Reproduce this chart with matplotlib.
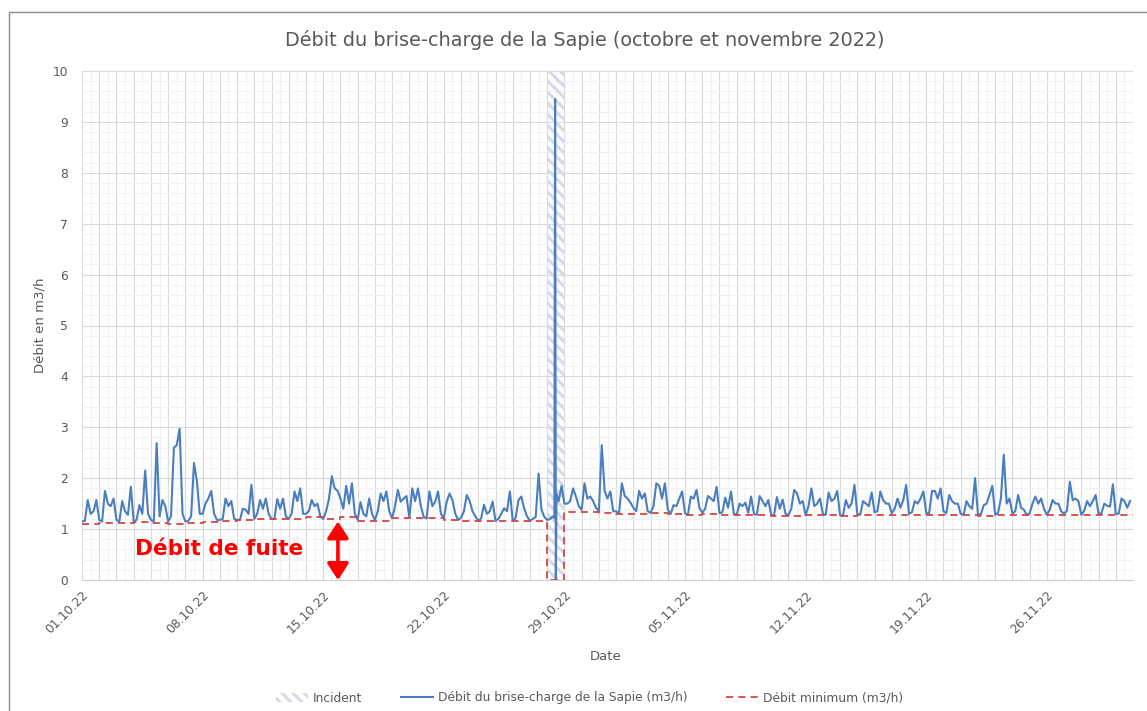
import matplotlib
matplotlib.use("Agg")
import matplotlib.pyplot as plt
from matplotlib.lines import Line2D
from matplotlib.patches import Patch
from matplotlib.ticker import MultipleLocator
import pandas as pd

# ---------------- data ----------------
# flow readings, every 4 hours (00h, 04h, 08h, 12h, 16h, 20h), one row per day
flow_october = [
    1.15, 1.16, 1.57, 1.30, 1.35, 1.57,   # 01.10
    1.18, 1.15, 1.75, 1.50, 1.45, 1.60,
    1.18, 1.15, 1.55, 1.35, 1.28, 1.83,
    1.15, 1.18, 1.47, 1.30, 2.15, 1.30,
    1.18, 1.15, 2.69, 1.25, 1.57, 1.45,
    1.15, 1.25, 2.60, 2.65, 2.97, 1.30,
    1.15, 1.16, 1.25, 2.30, 1.95, 1.30,
    1.30, 1.50, 1.60, 1.75, 1.30, 1.18,   # 08.10
    1.18, 1.20, 1.60, 1.45, 1.55, 1.20,
    1.18, 1.18, 1.40, 1.38, 1.30, 1.87,
    1.20, 1.30, 1.57, 1.40, 1.60, 1.30,
    1.20, 1.20, 1.59, 1.40, 1.60, 1.25,
    1.20, 1.30, 1.74, 1.55, 1.80, 1.30,
    1.30, 1.35, 1.57, 1.45, 1.50, 1.25,
    1.20, 1.35, 1.59, 2.04, 1.80, 1.75,   # 15.10
    1.60, 1.40, 1.85, 1.50, 1.90, 1.30,
    1.18, 1.53, 1.30, 1.25, 1.60, 1.30,
    1.18, 1.35, 1.70, 1.55, 1.74, 1.35,
    1.21, 1.45, 1.77, 1.54, 1.60, 1.65,
    1.22, 1.80, 1.55, 1.80, 1.45, 1.24,
    1.21, 1.74, 1.45, 1.54, 1.74, 1.30,
    1.21, 1.54, 1.70, 1.57, 1.30, 1.18,   # 22.10
    1.22, 1.35, 1.67, 1.55, 1.35, 1.25,
    1.16, 1.21, 1.48, 1.30, 1.35, 1.54,
    1.16, 1.20, 1.30, 1.41, 1.35, 1.74,
    1.16, 1.22, 1.57, 1.64, 1.40, 1.25,
    1.16, 1.20, 1.24, 2.09, 1.38, 1.24,
    1.18, 1.20, 1.25, 1.25, 1.55, 1.85,
    1.50, 1.50, 1.55, 1.80, 1.64, 1.45,   # 29.10
    1.38, 1.90, 1.60, 1.64, 1.55, 1.42,
    1.35, 2.65, 1.75, 1.60, 1.74, 1.35,
]
flow_november = [
    1.35, 1.30, 1.90, 1.65, 1.60, 1.52,   # 01.11
    1.42, 1.35, 1.75, 1.60, 1.70, 1.35,
    1.32, 1.45, 1.90, 1.85, 1.60, 1.90,
    1.38, 1.30, 1.47, 1.45, 1.60, 1.74,
    1.31, 1.28, 1.64, 1.60, 1.77, 1.42,   # 05.11
    1.32, 1.40, 1.65, 1.60, 1.55, 1.83,
    1.31, 1.33, 1.62, 1.42, 1.74, 1.30,
    1.28, 1.50, 1.45, 1.52, 1.32, 1.64,
    1.30, 1.28, 1.65, 1.55, 1.45, 1.57,
    1.28, 1.27, 1.63, 1.40, 1.58, 1.30,
    1.27, 1.40, 1.77, 1.70, 1.50, 1.55,
    1.27, 1.45, 1.80, 1.45, 1.50, 1.60,   # 12.11
    1.30, 1.28, 1.72, 1.55, 1.60, 1.75,
    1.27, 1.27, 1.57, 1.42, 1.50, 1.87,
    1.30, 1.28, 1.55, 1.50, 1.45, 1.72,
    1.33, 1.35, 1.74, 1.57, 1.50, 1.50,
    1.31, 1.40, 1.60, 1.42, 1.57, 1.87,
    1.30, 1.33, 1.55, 1.50, 1.60, 1.74,
    1.31, 1.31, 1.75, 1.75, 1.60, 1.80,   # 19.11
    1.35, 1.31, 1.67, 1.55, 1.50, 1.50,
    1.30, 1.28, 1.55, 1.45, 1.40, 2.00,
    1.30, 1.28, 1.47, 1.50, 1.67, 1.85,
    1.28, 1.32, 1.60, 2.46, 1.50, 1.60,
    1.30, 1.35, 1.67, 1.42, 1.38, 1.28,
    1.31, 1.50, 1.64, 1.50, 1.60, 1.40,
    1.28, 1.38, 1.57, 1.50, 1.50, 1.35,   # 26.11
    1.30, 1.36, 1.93, 1.57, 1.60, 1.55,
    1.28, 1.36, 1.55, 1.45, 1.55, 1.67,
    1.30, 1.31, 1.50, 1.46, 1.44, 1.88,
    1.30, 1.30, 1.60, 1.55, 1.42, 1.55,
]
# hourly readings during the incident (28.10.22)
incident_times = ["2022-10-28 10:00", "2022-10-28 11:00",
                  "2022-10-28 12:00", "2022-10-28 13:00"]
incident_values = [1.22, 9.45, 0.0, 1.70]

# daily minimum flow (m3/h)
min_october = [1.11, 1.12, 1.12, 1.13, 1.12, 1.11, 1.12, 1.14, 1.15, 1.17,
               1.19, 1.19, 1.20, 1.24, 1.20, 1.24, 1.16, 1.16, 1.21, 1.21,
               1.21, 1.18, 1.15, 1.15, 1.15, 1.15, 1.15, 0.00, 1.33, 1.33,
               1.32]
min_november = [1.30, 1.30, 1.31, 1.30, 1.28, 1.29, 1.28, 1.27, 1.27, 1.26,
                1.26, 1.27, 1.27, 1.26, 1.27, 1.28, 1.27, 1.27, 1.28, 1.27,
                1.27, 1.26, 1.27, 1.27, 1.28, 1.27, 1.27, 1.27, 1.28, 1.28]

incident_start = "2022-10-28"
incident_end = "2022-10-29"

tick_labels = ["01.10.22", "08.10.22", "15.10.22", "22.10.22", "29.10.22",
               "05.11.22", "12.11.22", "19.11.22", "26.11.22"]

leak_date = "2022-10-15 20:30"

# ---------------- build series ----------------
flow = flow_october + flow_november
times = pd.date_range("2022-10-01", periods=len(flow), freq="4h")
flow_s = pd.Series(flow, index=times)
extra = pd.Series(incident_values, index=pd.to_datetime(incident_times))
flow_s = extra.combine_first(flow_s)

mins = min_october + min_november
days = pd.date_range("2022-10-01", periods=len(mins) + 1, freq="D")
mins_ext = mins + [mins[-1]]

# ---------------- figure ----------------
plt.rcParams["hatch.linewidth"] = 2.2
TXT = "#595959"
HATCH = "\\\\\\"
HATCH_COL = "#d8d8ec"
fig = plt.figure(figsize=(11.47, 7.11), dpi=100)
ax = fig.add_axes([82 / 1147, 1 - 580 / 711, (1133 - 82) / 1147, (580 - 71) / 711])

# incident band
ax.axvspan(pd.Timestamp(incident_start), pd.Timestamp(incident_end), ymin=0, ymax=1,
           facecolor="none", edgecolor=HATCH_COL, hatch=HATCH, linewidth=0, zorder=1)

ax.plot(flow_s.index, flow_s.values, color="#4a7ebf", lw=1.5, zorder=3)
ax.step(days, mins_ext, where="post", color="#d04848", lw=1.3,
        linestyle=(0, (4, 2.8)), zorder=4)

# axes
ax.set_xlim(days[0], days[-1])
ax.set_ylim(0, 10)
ax.yaxis.set_major_locator(MultipleLocator(1))
ax.yaxis.set_minor_locator(MultipleLocator(0.2))
labels_by_date = {pd.to_datetime(t, format="%d.%m.%y"): t for t in tick_labels}
ax.set_xticks(days)
ax.set_xticklabels([labels_by_date.get(d, "") for d in days], rotation=45,
                   ha="right", rotation_mode="anchor", color=TXT, fontsize=8.8)
half_days = pd.date_range(days[0] + pd.Timedelta(hours=12), periods=len(mins), freq="D")
ax.set_xticks(half_days, minor=True)
ax.grid(which="major", color="#d9d9d9", lw=0.8)
ax.grid(which="minor", color="#f2f2f2", lw=0.8)
ax.set_axisbelow(True)
ax.tick_params(which="both", length=0)
ax.tick_params(axis="y", labelcolor=TXT, labelsize=8.8, pad=10)
ax.tick_params(axis="x", pad=6)
for side in ["top", "right", "left"]:
    ax.spines[side].set_visible(False)
ax.spines["bottom"].set_color("#d0d0d0")

# annotation
leak_x = pd.Timestamp(leak_date)
ax.annotate("", xy=(leak_x, 0), xytext=(leak_x, mins[14] - 0.05),
            arrowprops=dict(arrowstyle="<|-|>,head_length=1.0,head_width=0.65",
                            mutation_scale=10, color="#ff0000", lw=2.6,
                            shrinkA=0, shrinkB=0), zorder=5)
ax.text(pd.Timestamp("2022-10-04 02:00"), 0.6, "Débit de fuite", color="#ff0000",
        fontsize=15.6, fontweight="bold", ha="left", va="center", zorder=5)

# texts
fig.text(0.51, 1 - 40 / 711, "Débit du brise-charge de la Sapie (octobre et novembre 2022)",
         ha="center", va="center", fontsize=13.9, color=TXT)
fig.text(40 / 1147, 1 - 325 / 711, "Débit en m3/h", rotation=90, ha="center",
         va="center", fontsize=9.5, color=TXT)
fig.text(606 / 1147, 1 - 656 / 711, "Date", ha="center", va="center",
         fontsize=9.5, color=TXT)

# outer chart border
fig.add_artist(Line2D([9 / 1147, 9 / 1147, 1.0], [0.0, 1 - 12 / 711, 1 - 12 / 711],
                      transform=fig.transFigure, color="#8c8c8c", lw=1.0))

# legend
handles = [
    Patch(facecolor="white", edgecolor=HATCH_COL, hatch=HATCH, linewidth=0),
    Line2D([], [], color="#4a7ebf", lw=1.5),
    Line2D([], [], color="#d04848", lw=1.3, linestyle=(0, (4, 2.8))),
]
leg = fig.legend(handles, ["Incident", "Débit du brise-charge de la Sapie (m3/h)",
                           "Débit minimum (m3/h)"],
                 loc="center", bbox_to_anchor=(0.514, 1 - 698 / 711), ncol=3,
                 frameon=False, fontsize=8.8, handlelength=2.6, columnspacing=3.2,
                 handletextpad=0.4)
for t in leg.get_texts():
    t.set_color(TXT)

fig.savefig("out.png", dpi=100)
